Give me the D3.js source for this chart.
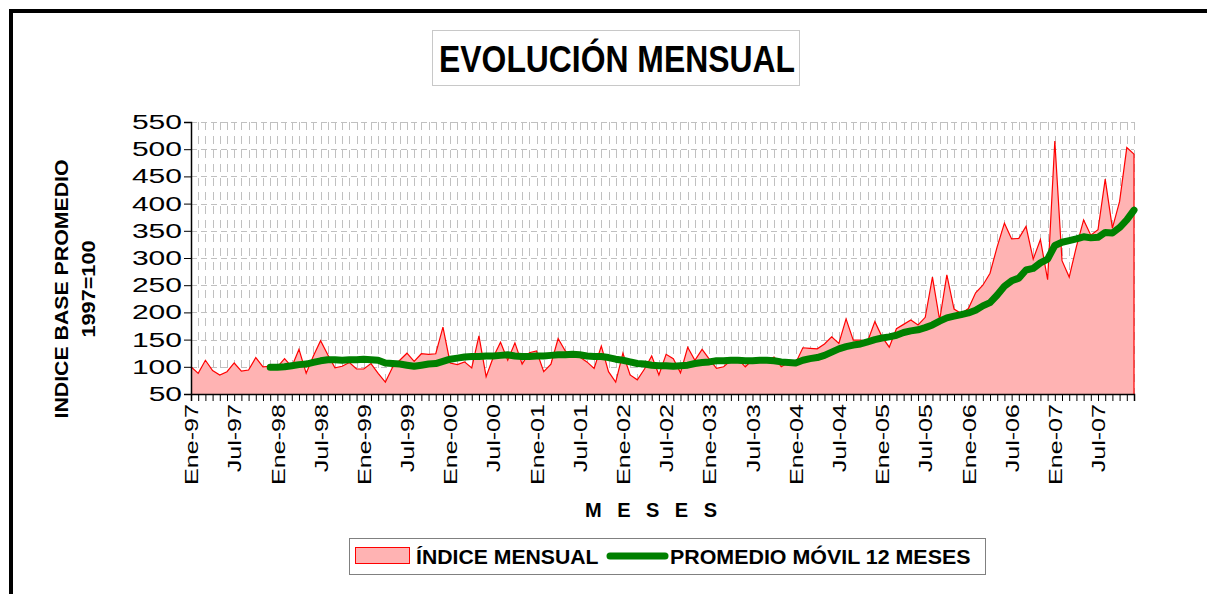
<!DOCTYPE html>
<html>
<head>
<meta charset="utf-8">
<script src="https://cdn.jsdelivr.net/npm/d3@7"></script>
<style>
  body { margin: 0; background: #fff; }
  svg { display: block; font-family: "Liberation Sans", Arial, sans-serif; }
</style>
</head>
<body>
<div id="chart"></div>
<script>
// month names and years on the category axis
var monthNames = ['Ene', 'Feb', 'Mar', 'Abr', 'May', 'Jun', 'Jul', 'Ago', 'Sep', 'Oct', 'Nov', 'Dic'];
var years = ['97', '98', '99', '00', '01', '02', '03', '04', '05', '06', '07'];
var labelMonths = ['Ene', 'Jul'];

// ÍNDICE MENSUAL, Ene-97 .. Dic-07
var indiceMensual = [
  100, 88, 112, 93, 85, 91, 107, 92, 94, 117, 100, 101,
  100, 115, 100, 132, 88, 120, 148, 122, 98, 101, 108, 96,
  96, 106, 88, 72, 99, 112, 125, 110, 124, 123, 124, 173,
  107, 104, 109, 98, 157, 82, 118, 145, 112, 144, 105, 126,
  129, 91, 105, 152, 129, 120, 118, 109, 97, 138, 91, 72,
  125, 85, 76, 96, 120, 85, 123, 115, 89, 136, 112, 132,
  114, 97, 100, 112, 114, 100, 113, 112, 111, 118, 100, 108,
  107, 135, 134, 133, 142, 155, 143, 188, 149, 149, 147, 183,
  155, 136, 170, 178, 186, 177, 191, 265, 186, 269, 206, 198,
  207, 236, 250, 272, 321, 364, 335, 336, 358, 298, 334, 260,
  515, 295, 265, 321, 370, 342, 352, 445, 355, 404, 503, 491
];

// PROMEDIO MÓVIL 12 MESES (starts Dic-97)
var promedioMovil = [
  null, null, null, null, null, null, null, null, null, null, null, 99,
  99, 100, 102, 104, 105, 108, 111, 113, 113, 112, 113, 113,
  114, 113, 112, 107, 106, 105, 103, 101, 103, 105, 106, 110,
  114, 116, 118, 119, 119, 120, 120, 121, 122, 120, 119, 119,
  120, 120, 121, 122, 122, 123, 122, 120, 119, 119, 117, 114,
  112, 109, 106, 105, 103, 102, 102, 101, 102, 103, 106, 108,
  109, 111, 111, 112, 112, 111, 111, 112, 112, 111, 109, 108,
  107, 112, 115, 117, 121, 127, 133, 137, 140, 142, 146, 150,
  153, 155, 158, 163, 166, 168, 172, 177, 184, 190, 193, 196,
  199, 204, 212, 218, 232, 248, 258, 263, 278, 281, 291, 298,
  323, 329, 332, 335, 339, 337, 338, 347, 346, 356, 370, 388
];

var yTicks = [50, 100, 150, 200, 250, 300, 350, 400, 450, 500, 550];

var months = [];
years.forEach(function (yy) {
  monthNames.forEach(function (m) { months.push(m + '-' + yy); });
});

var data = months.map(function (m, i) {
  return {month: m, value: indiceMensual[i], avg: promedioMovil[i]};
});

var width = 1207, height = 594;
var plot = {left: 191, top: 122, right: 1134, bottom: 394};

// the original chart font is wider (or narrower) than Liberation Sans
function stretch(sel, factor) {
  sel.each(function () {
    var len = this.getComputedTextLength();
    if (len > 0) {
      d3.select(this)
        .attr('textLength', len * factor)
        .attr('lengthAdjust', 'spacingAndGlyphs');
    }
  });
}

var svg = d3.select('#chart').append('svg')
  .attr('width', width)
  .attr('height', height);

// outer frame
svg.append('path')
  .attr('d', 'M11,' + height + ' V11 H' + width)
  .attr('fill', 'none')
  .attr('stroke', '#000')
  .attr('stroke-width', 4);

var x = d3.scalePoint()
  .domain(months)
  .range([plot.left, plot.right]);

var y = d3.scaleLinear()
  .domain([50, 550])
  .range([plot.bottom, plot.top]);

// gridlines
var grid = svg.append('g').attr('class', 'grid');
grid.selectAll('.vgrid')
  .data(months.slice(1))
  .enter()
  .append('line')
  .attr('class', 'vgrid')
  .attr('x1', function (d) { return Math.round(x(d)) + 0.5; })
  .attr('x2', function (d) { return Math.round(x(d)) + 0.5; })
  .attr('y1', plot.top)
  .attr('y2', plot.bottom)
  .attr('stroke', '#c0c0c0')
  .attr('stroke-dasharray', '8,6');

grid.selectAll('.hgrid')
  .data(yTicks.slice(1))
  .enter()
  .append('line')
  .attr('class', 'hgrid')
  .attr('x1', plot.left)
  .attr('x2', plot.right)
  .attr('y1', function (d) { return Math.round(y(d)) + 0.5; })
  .attr('y2', function (d) { return Math.round(y(d)) + 0.5; })
  .attr('stroke', '#c0c0c0')
  .attr('stroke-dasharray', '6,4');

// monthly index area
var area = d3.area()
  .x(function (d) { return x(d.month); })
  .y0(y(50))
  .y1(function (d) { return y(d.value); });

svg.append('path')
  .datum(data)
  .attr('d', area)
  .attr('fill', '#ffb3b3');

var line = d3.line()
  .x(function (d) { return x(d.month); })
  .y(function (d) { return y(d.value); });

svg.append('path')
  .datum(data)
  .attr('d', line)
  .attr('fill', 'none')
  .attr('stroke', '#ff0000')
  .attr('stroke-width', 1.2);

// right edge of the area
svg.append('line')
  .attr('x1', x(months[months.length - 1]))
  .attr('x2', x(months[months.length - 1]))
  .attr('y1', y(indiceMensual[indiceMensual.length - 1]))
  .attr('y2', plot.bottom)
  .attr('stroke', '#ff0000')
  .attr('stroke-width', 1.2);

// moving average
var avgLine = d3.line()
  .defined(function (d) { return d.avg != null; })
  .x(function (d) { return x(d.month); })
  .y(function (d) { return y(d.avg); });

svg.append('path')
  .datum(data)
  .attr('d', avgLine)
  .attr('fill', 'none')
  .attr('stroke', '#008000')
  .attr('stroke-width', 7)
  .attr('stroke-linecap', 'round')
  .attr('stroke-linejoin', 'round');

// axes
var yAxis = d3.axisLeft(y)
  .tickValues(yTicks)
  .tickSize(7)
  .tickPadding(2);

var yAxisG = svg.append('g')
  .attr('transform', 'translate(' + plot.left + ',0)')
  .call(yAxis);
yAxisG.select('.domain').attr('stroke', '#000').attr('stroke-width', 1.5);
yAxisG.selectAll('text')
  .attr('font-size', 20)
  .attr('font-family', '"Liberation Sans", Arial, sans-serif')
  .attr('fill', '#000')
  .call(stretch, 1.5);

var xAxis = d3.axisBottom(x)
  .tickSize(7)
  .tickFormat(function (d) {
    return labelMonths.indexOf(d.split('-')[0]) >= 0 ? d : '';
  });

var xAxisG = svg.append('g')
  .attr('transform', 'translate(0,' + plot.bottom + ')')
  .call(xAxis);
xAxisG.select('.domain').attr('stroke', '#000').attr('stroke-width', 1.5);
xAxisG.selectAll('text')
  .attr('font-size', 19)
  .attr('font-family', '"Liberation Sans", Arial, sans-serif')
  .attr('fill', '#000')
  .attr('transform', 'rotate(-90)')
  .attr('text-anchor', 'end')
  .attr('x', -10)
  .attr('y', 0)
  .attr('dy', '0.35em')
  .call(stretch, 1.32);

// title box
svg.append('rect')
  .attr('x', 432.5)
  .attr('y', 30.5)
  .attr('width', 367)
  .attr('height', 55)
  .attr('fill', '#fff')
  .attr('stroke', '#c8c8c8');

svg.append('text')
  .attr('x', 617)
  .attr('y', 72)
  .attr('text-anchor', 'middle')
  .attr('font-size', 36)
  .attr('font-weight', 'bold')
  .text('EVOLUCIÓN MENSUAL')
  .call(stretch, 0.885);

// y axis title
var yTitle = svg.append('g')
  .attr('transform', 'translate(68,289) rotate(-90)');
yTitle.append('text')
  .attr('text-anchor', 'middle')
  .attr('font-size', 19)
  .attr('font-weight', 'bold')
  .text('INDICE BASE PROMEDIO')
  .call(stretch, 1.12);
yTitle.append('text')
  .attr('y', 27)
  .attr('text-anchor', 'middle')
  .attr('font-size', 19)
  .attr('font-weight', 'bold')
  .text('1997=100')
  .call(stretch, 1.14);

// x axis title
svg.append('text')
  .attr('x', 585)
  .attr('y', 517)
  .attr('font-size', 20)
  .attr('font-weight', 'bold')
  .attr('letter-spacing', '15.5px')
  .text('MESES');

// legend
var legend = svg.append('g');
legend.append('rect')
  .attr('x', 349.5)
  .attr('y', 538.5)
  .attr('width', 636)
  .attr('height', 36)
  .attr('fill', '#fff')
  .attr('stroke', '#808080');
legend.append('rect')
  .attr('x', 355.5)
  .attr('y', 547.5)
  .attr('width', 54)
  .attr('height', 16)
  .attr('fill', '#ffb3b3')
  .attr('stroke', '#ff0000');
legend.append('text')
  .attr('x', 416)
  .attr('y', 564)
  .attr('font-size', 20)
  .attr('font-weight', 'bold')
  .text('ÍNDICE MENSUAL')
  .call(stretch, 1.06);
legend.append('line')
  .attr('x1', 610)
  .attr('x2', 665)
  .attr('y1', 556)
  .attr('y2', 556)
  .attr('stroke', '#008000')
  .attr('stroke-width', 7)
  .attr('stroke-linecap', 'round');
legend.append('text')
  .attr('x', 670)
  .attr('y', 564)
  .attr('font-size', 20)
  .attr('font-weight', 'bold')
  .text('PROMEDIO MÓVIL 12 MESES')
  .call(stretch, 1.07);
</script>
</body>
</html>
